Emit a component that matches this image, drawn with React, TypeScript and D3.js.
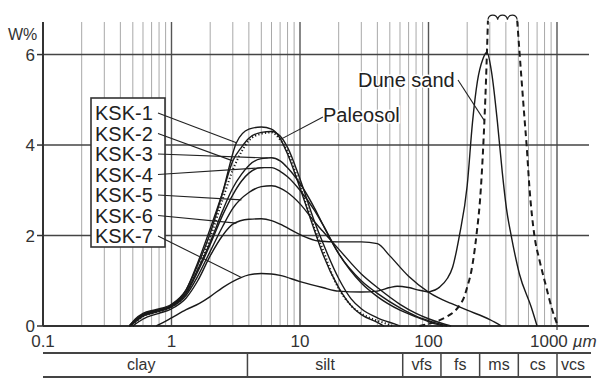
import * as d3 from 'd3';
import { useEffect, useRef } from 'react';

type Pt = [number, number]; // [grain size µm, weight %]

// ── Data ─────────────────────────────────────────────────────────────────
const KSK1: Pt[] = [[0.47, 0], [0.52, 0.15], [0.6, 0.28], [0.75, 0.36], [1, 0.48], [1.3, 0.8], [1.6, 1.35], [2, 2.05], [2.5, 2.95], [3.2, 4.05], [4, 4.35], [5, 4.4], [6, 4.35], [7, 4.15], [8, 3.8], [10, 3.05], [13, 2.1], [15, 1.6], [20, 0.85], [25, 0.45], [30, 0.25], [40, 0.08], [45, 0]];
const KSK2: Pt[] = [[0.47, 0], [0.52, 0.13], [0.6, 0.26], [0.75, 0.34], [1, 0.46], [1.3, 0.8], [1.6, 1.4], [2, 2.15], [2.5, 2.95], [3, 3.65], [3.5, 3.95], [4, 4.15], [5, 4.28], [6, 4.3], [7, 4.2], [8, 3.95], [10, 3.25], [13, 2.3], [15, 1.85], [20, 1.05], [25, 0.6], [30, 0.38], [40, 0.18], [55, 0.04], [60, 0]];
const KSK3: Pt[] = [[0.47, 0], [0.53, 0.14], [0.6, 0.25], [0.75, 0.33], [1, 0.45], [1.3, 0.75], [1.6, 1.25], [2, 1.85], [2.5, 2.55], [3, 3.05], [3.5, 3.35], [4, 3.55], [5, 3.7], [6, 3.72], [7, 3.65], [8, 3.5], [10, 3.15], [13, 2.6], [15, 2.25], [20, 1.6], [30, 1.0], [40, 0.72], [60, 0.4], [80, 0.22], [100, 0.12], [120, 0.05], [140, 0]];
const KSK4: Pt[] = [[0.47, 0], [0.53, 0.13], [0.6, 0.24], [0.75, 0.32], [1, 0.43], [1.3, 0.72], [1.6, 1.2], [2, 1.8], [2.5, 2.45], [3, 2.9], [3.5, 3.2], [4, 3.38], [5, 3.5], [6, 3.5], [7, 3.42], [8, 3.3], [10, 3.0], [13, 2.55], [15, 2.25], [20, 1.6], [30, 0.95], [40, 0.65], [60, 0.35], [80, 0.2], [100, 0.1], [115, 0.04], [130, 0]];
const KSK5: Pt[] = [[0.48, 0], [0.54, 0.12], [0.6, 0.22], [0.75, 0.3], [1, 0.42], [1.3, 0.68], [1.6, 1.1], [2, 1.65], [2.5, 2.2], [3, 2.6], [4, 2.95], [5, 3.08], [6, 3.1], [7, 3.05], [8, 2.95], [10, 2.7], [13, 2.3], [15, 2.1], [20, 1.7], [30, 1.15], [40, 0.85], [60, 0.48], [80, 0.28], [100, 0.16], [130, 0.05], [150, 0]];
const KSK6: Pt[] = [[0.5, 0], [0.56, 0.1], [0.65, 0.2], [0.8, 0.28], [1, 0.38], [1.3, 0.62], [1.6, 1.0], [2, 1.55], [2.5, 2.0], [3, 2.25], [4, 2.36], [5, 2.37], [6, 2.33], [7, 2.25], [10, 2.02], [14, 1.88], [20, 1.86], [30, 1.86], [40, 1.82], [50, 1.55], [70, 1.1], [100, 0.75], [120, 0.62], [150, 0.5], [200, 0.35], [300, 0.14], [370, 0]];
const KSK7: Pt[] = [[0.76, 0], [0.85, 0.07], [1, 0.18], [1.3, 0.36], [1.65, 0.5], [2, 0.65], [2.5, 0.85], [3.4, 1.06], [4, 1.13], [5, 1.16], [6, 1.15], [7, 1.12], [10, 0.98], [15, 0.85], [20, 0.77], [30, 0.75], [40, 0.77], [50, 0.85], [57, 0.88], [70, 0.85], [85, 0.79], [100, 0.75]];
const PALEOSOL: Pt[] = [[0.5, 0], [0.55, 0.12], [0.62, 0.24], [0.75, 0.3], [1, 0.42], [1.3, 0.72], [1.6, 1.25], [2, 1.95], [2.5, 2.8], [3, 3.45], [3.5, 3.85], [4, 4.1], [5, 4.25], [6, 4.28], [7, 4.12], [8, 3.85], [10, 3.1], [13, 2.15], [15, 1.7], [19, 0.95], [25, 0.45], [35, 0.18], [45, 0.07], [53, 0]];
const DUNE_SOLID: Pt[] = [[100, 0.75], [122, 0.86], [140, 1.05], [154, 1.3], [174, 2.0], [200, 3.1], [220, 4.5], [240, 5.4], [265, 5.9], [285, 6.05], [310, 5.6], [344, 4.5], [375, 3.4], [404, 2.6], [440, 2.0], [510, 1.15], [630, 0.42], [700, 0]];
// dashed dune sand runs off the top; two branches either side of the break
const DUNE_DASH_LEFT: Pt[] = [[85, 0], [110, 0.08], [137, 0.2], [160, 0.33], [174, 0.45], [190, 0.65], [200, 0.86], [215, 1.2], [236, 2.0], [255, 3.0], [268, 4.1], [280, 5.4], [290, 6.75]];
const DUNE_DASH_RIGHT: Pt[] = [[490, 6.75], [530, 5.44], [560, 4.55], [580, 4.0], [610, 3.07], [667, 2.0], [730, 1.46], [825, 0.86], [920, 0.35], [1000, 0.05]];

const LEGEND = ['KSK-1', 'KSK-2', 'KSK-3', 'KSK-4', 'KSK-5', 'KSK-6', 'KSK-7'];
const LEGEND_SERIES = [KSK1, KSK2, KSK3, KSK4, KSK5, KSK6, KSK7];
const POINTER_AT = [3.2, 3.0, 5.6, 5.2, 3.5, 3.2, 3.5]; // µm where each leader meets its curve

const X_TICKS = [0.1, 1, 10, 100, 1000];
const X_TICK_LABELS = ['0.1', '1', '10', '100', '1000'];
const Y_TICKS = [0, 2, 4, 6];
const CLASS_LABELS = ['clay', 'silt', 'vfs', 'fs', 'ms', 'cs', 'vcs'];
const CLASS_EDGES = [3.9, 63, 125, 250, 500, 1000]; // µm

const W = 601;
const H = 378;
const FONT = '"Liberation Sans", Arial, sans-serif';

// value of a series at size s (linear in log-size)
function valueAt(series: Pt[], s: number) {
  for (let i = 1; i < series.length; i++) {
    const [s0, v0] = series[i - 1];
    const [s1, v1] = series[i];
    if (s >= s0 && s <= s1) {
      const t = (Math.log10(s) - Math.log10(s0)) / (Math.log10(s1) - Math.log10(s0));
      return v0 + t * (v1 - v0);
    }
  }
  return 0;
}

export default function App() {
  const svgRef = useRef<SVGSVGElement | null>(null);

  useEffect(() => {
    if (!svgRef.current) return;
    const svg = d3.select(svgRef.current);
    svg.selectAll('*').remove();

    const left = 43, right = 557, top = 22, bottom = 326;
    const gridRight = 589;

    const x = d3.scaleLog().domain([0.1, 1000]).range([left, right]);
    const y = d3.scaleLinear().domain([0, 6.72]).range([bottom, top]);

    // ── Grid ──────────────────────────────────────────────────────────────
    const grid = svg.append('g');
    for (let d = -1; d <= 2; d++) {
      for (let k = 1; k <= 9; k++) {
        const v = k * Math.pow(10, d);
        if (v === 0.1) continue;
        grid.append('line')
          .attr('x1', x(v)).attr('x2', x(v))
          .attr('y1', top).attr('y2', bottom)
          .attr('stroke', k === 1 ? '#555' : '#a8a8a8')
          .attr('stroke-width', k === 1 ? 1.4 : 1);
      }
    }
    grid.append('line')
      .attr('x1', x(1000)).attr('x2', x(1000))
      .attr('y1', top).attr('y2', bottom + 4)
      .attr('stroke', '#555').attr('stroke-width', 1.4);

    Y_TICKS.filter(t => t > 0).forEach(t => {
      grid.append('line')
        .attr('x1', left).attr('x2', gridRight)
        .attr('y1', y(t)).attr('y2', y(t))
        .attr('stroke', '#444').attr('stroke-width', 1.5);
    });

    // ── Axes ──────────────────────────────────────────────────────────────
    svg.append('line')
      .attr('x1', left).attr('x2', left).attr('y1', top).attr('y2', bottom)
      .attr('stroke', '#333').attr('stroke-width', 2);
    svg.append('line')
      .attr('x1', left).attr('x2', gridRight).attr('y1', bottom).attr('y2', bottom)
      .attr('stroke', '#333').attr('stroke-width', 2);

    Y_TICKS.forEach(t => {
      svg.append('line')
        .attr('x1', left - 6).attr('x2', left).attr('y1', y(t)).attr('y2', y(t))
        .attr('stroke', '#333').attr('stroke-width', 1.5);
      svg.append('text')
        .attr('x', left - 8).attr('y', y(t) + 6)
        .attr('text-anchor', 'end')
        .attr('font-family', FONT).attr('font-size', 17).attr('fill', '#333')
        .text(t);
    });
    svg.append('text')
      .attr('x', 8).attr('y', 40)
      .attr('font-family', FONT).attr('font-size', 16).attr('fill', '#333')
      .text('W%');

    X_TICKS.forEach((t, i) => {
      if (t === 1000) {
        const txt = svg.append('text')
          .attr('x', x(t) - 27).attr('y', bottom + 21)
          .attr('font-family', FONT).attr('font-size', 17).attr('fill', '#333');
        txt.append('tspan').text(X_TICK_LABELS[i]);
        txt.append('tspan').attr('dx', 5).attr('font-style', 'italic').text('µm');
        return;
      }
      svg.append('text')
        .attr('x', x(t)).attr('y', bottom + 21)
        .attr('text-anchor', 'middle')
        .attr('font-family', FONT).attr('font-size', 17).attr('fill', '#333')
        .text(X_TICK_LABELS[i]);
    });

    // ── Grain-size class table ────────────────────────────────────────────
    const tTop = 353, tBot = 377;
    svg.append('line')
      .attr('x1', left).attr('x2', gridRight + 2).attr('y1', tTop).attr('y2', tTop)
      .attr('stroke', '#444').attr('stroke-width', 2);
    svg.append('line')
      .attr('x1', left).attr('x2', gridRight + 2).attr('y1', tBot).attr('y2', tBot)
      .attr('stroke', '#444').attr('stroke-width', 2);
    CLASS_EDGES.forEach(e => {
      svg.append('line')
        .attr('x1', x(e)).attr('x2', x(e)).attr('y1', tTop).attr('y2', tBot)
        .attr('stroke', '#444').attr('stroke-width', 1.5);
    });
    const edgesPx = [left, ...CLASS_EDGES.map(e => x(e)), gridRight];
    CLASS_LABELS.forEach((lab, i) => {
      svg.append('text')
        .attr('x', (edgesPx[i] + edgesPx[i + 1]) / 2 - (i === 0 ? 4 : 0))
        .attr('y', tBot - 7)
        .attr('text-anchor', 'middle')
        .attr('font-family', FONT).attr('font-size', 16).attr('fill', '#333')
        .text(lab);
    });

    // ── Curves ────────────────────────────────────────────────────────────
    const line = d3.line<Pt>()
      .x(d => x(d[0]))
      .y(d => y(d[1]))
      .curve(d3.curveMonotoneX);

    const curves = svg.append('g').attr('fill', 'none').attr('stroke-linejoin', 'round');
    [...LEGEND_SERIES, DUNE_SOLID].forEach(s => {
      curves.append('path')
        .attr('d', line(s) ?? '')
        .attr('stroke', '#1a1a1a').attr('stroke-width', 1.4);
    });
    curves.append('path')
      .attr('d', line(PALEOSOL) ?? '')
      .attr('stroke', '#1a1a1a').attr('stroke-width', 2)
      .attr('stroke-dasharray', '1.2,2.2');
    [DUNE_DASH_LEFT, DUNE_DASH_RIGHT].forEach(s => {
      curves.append('path')
        .attr('d', line(s) ?? '')
        .attr('stroke', '#1a1a1a').attr('stroke-width', 2)
        .attr('stroke-dasharray', '6,4');
    });

    // break mark between the two dashed branches
    const bx0 = x(DUNE_DASH_LEFT[DUNE_DASH_LEFT.length - 1][0]);
    const bx1 = x(DUNE_DASH_RIGHT[0][0]);
    const by = y(DUNE_DASH_LEFT[DUNE_DASH_LEFT.length - 1][1]) - 1;
    const bp = d3.path();
    const hump = (bx1 - bx0) / 3;
    bp.moveTo(bx0, by);
    for (let i = 0; i < 3; i++) {
      bp.bezierCurveTo(bx0 + hump * i + 1, by - 6, bx0 + hump * (i + 1) - 1, by - 6, bx0 + hump * (i + 1), by);
    }
    svg.append('path').attr('d', bp.toString())
      .attr('fill', 'none').attr('stroke', '#1a1a1a').attr('stroke-width', 1.1);

    // ── Legend box with leaders ───────────────────────────────────────────
    const lg = svg.append('g');
    lg.append('rect')
      .attr('x', 91).attr('y', 98).attr('width', 74).attr('height', 149)
      .attr('fill', '#fff').attr('stroke', '#333').attr('stroke-width', 1.6);
    LEGEND.forEach((lab, i) => {
      const base = 120 + i * 20.5;
      lg.append('text')
        .attr('x', 95).attr('y', base)
        .attr('font-family', FONT).attr('font-size', 20).attr('fill', '#222')
        .text(lab);
      const s = POINTER_AT[i];
      lg.append('line')
        .attr('x1', 158).attr('y1', base - 7)
        .attr('x2', x(s)).attr('y2', y(valueAt(LEGEND_SERIES[i], s)))
        .attr('stroke', '#222').attr('stroke-width', 1.1);
    });

    // ── Annotations ───────────────────────────────────────────────────────
    const note = (label: string, tx: number, ty: number, lx: number, ly: number, series: Pt[], s: number) => {
      svg.append('line')
        .attr('x1', lx).attr('y1', ly)
        .attr('x2', x(s)).attr('y2', y(valueAt(series, s)))
        .attr('stroke', '#222').attr('stroke-width', 1.1);
      svg.append('text')
        .attr('x', tx).attr('y', ty)
        .attr('font-family', FONT).attr('font-size', 20).attr('fill', '#222')
        .attr('stroke', '#fff').attr('stroke-width', 3).attr('paint-order', 'stroke')
        .text(label);
    };
    note('Paleosol', 323, 122, 323, 117, PALEOSOL, 7);
    note('Dune sand', 358, 87, 458, 80, DUNE_DASH_LEFT, 272);
  }, []);

  return (
    <svg
      ref={svgRef}
      width={W}
      height={H}
      style={{ position: 'absolute', left: 0, top: 0, background: '#fff' }}
    />
  );
}
